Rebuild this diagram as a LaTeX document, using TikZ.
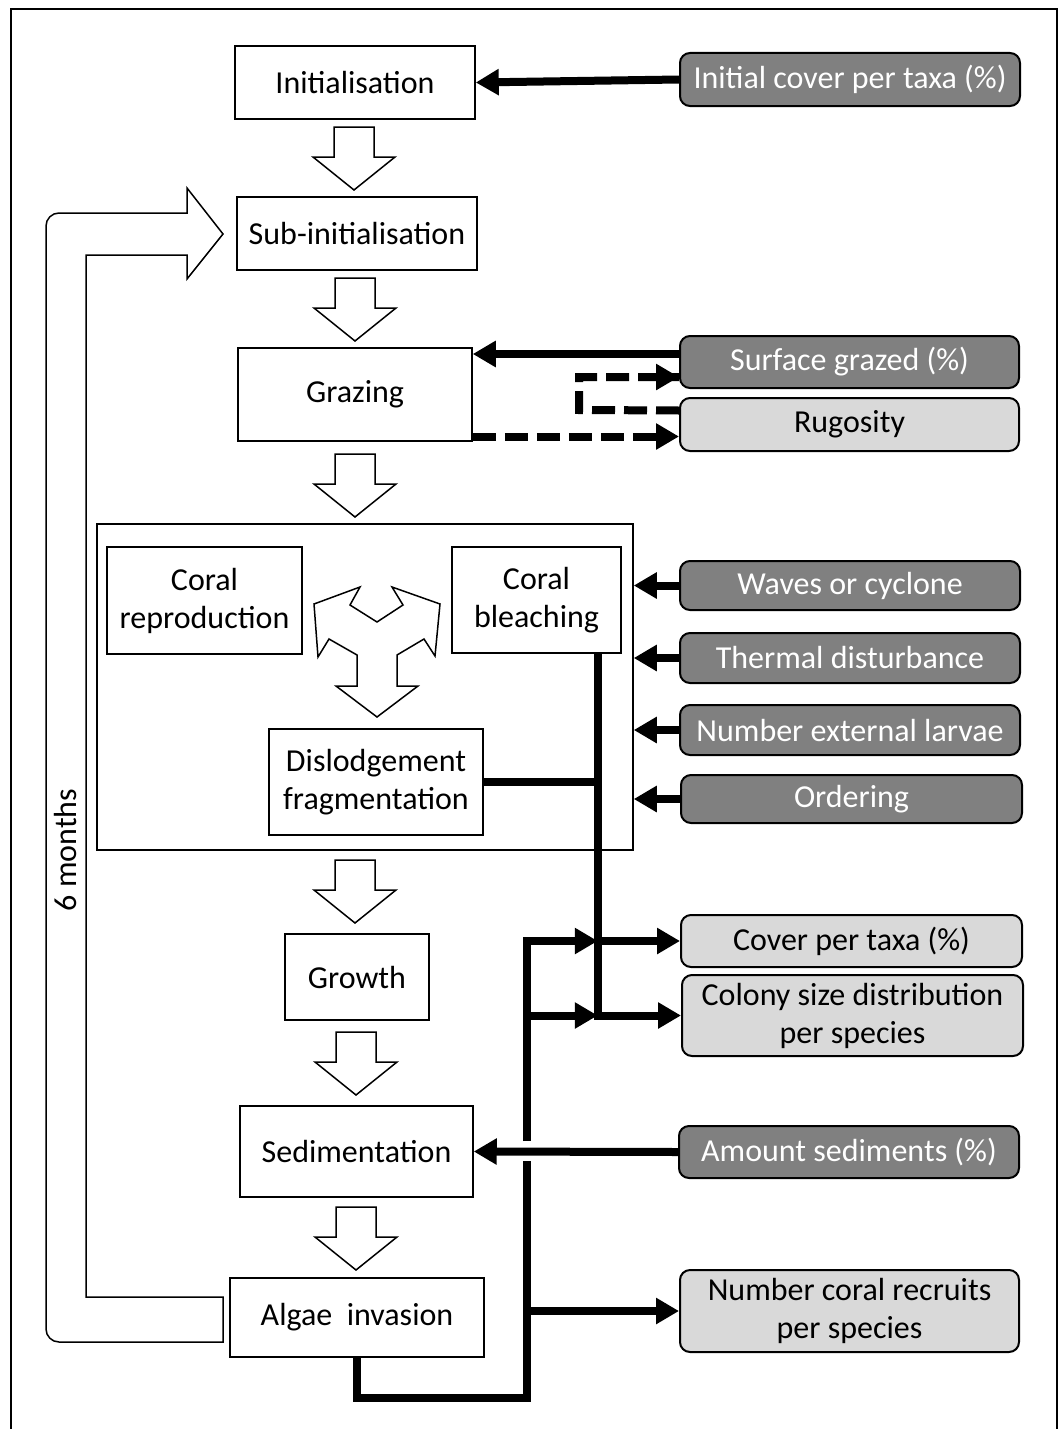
\documentclass[tikz,border=0pt]{standalone}
\usepackage{fontspec}
\setmainfont{Carlito}
\usetikzlibrary{arrows.meta}
\begin{document}
\begin{tikzpicture}[x=1pt,y=-1pt,
  every node/.style={font=\fontsize{32}{38}\selectfont, align=center, inner sep=0pt},
  proc/.style={draw, line width=1.5pt, fill=white},
  dparam/.style={draw, line width=2pt, rounded corners=10pt, fill=black!50, text=white},
  lparam/.style={draw, line width=2pt, rounded corners=10pt, fill=black!15, text=black},
  thk/.style={line width=8pt, line join=miter},
  thkarr/.style={thk, -{Triangle[length=23pt,width=25pt]}},
  dsh/.style={line width=8pt, dash pattern=on 23pt off 9pt},
  blk/.style={draw, line width=1.5pt, fill=white, line join=miter},
  blockdown/.pic={\draw[blk] (-20,0) -- (20,0) -- (20,30) -- (41,30) -- (0,63) -- (-41,30) -- (-20,30) -- cycle;}
]
\useasboundingbox (0,0) rectangle (1060,1429);
% frame
\draw[line width=1.5pt] (11,1440) -- (11,9) -- (1057,9) -- (1057,1440);

% container
\node[proc, minimum width=536pt, minimum height=326pt] (cont) at (365,687) {};

% process boxes
\node[proc, minimum width=240pt, minimum height=73pt] (init) at (355,82.5) {Initialisation};
\node[proc, minimum width=240pt, minimum height=73pt] (sub) at (357,233.5) {Sub-initialisation};
\node[proc, minimum width=234pt, minimum height=93pt] (graz) at (355,394.5) {Grazing};
\node[proc, minimum width=195pt, minimum height=107pt] (repro) at (204.5,600.5) {Coral\\reproduction};
\node[proc, minimum width=169pt, minimum height=106pt] (bleach) at (536.5,600) {Coral\\bleaching};
\node[proc, minimum width=214pt, minimum height=106pt] (disl) at (376,782) {Dislodgement\\fragmentation};
\node[proc, minimum width=144pt, minimum height=86pt] (growth) at (357,977) {Growth};
\node[proc, minimum width=233pt, minimum height=91pt] (sed) at (356.5,1151.5) {Sedimentation};
\node[proc, minimum width=254pt, minimum height=79pt] (algae) at (357,1317.5) {Algae\ \ invasion};

% parameter boxes
\node[dparam, minimum width=340pt, minimum height=53pt] (icov) at (850,79.5) {Initial cover per taxa (\%)};
\node[dparam, minimum width=339pt, minimum height=52pt] (sgraz) at (849.5,362) {Surface grazed (\%)};
\node[lparam, minimum width=339pt, minimum height=53pt] (rug) at (849.5,424.5) {Rugosity};
\node[dparam, minimum width=340pt, minimum height=49pt] (wave) at (850,585.5) {Waves or cyclone};
\node[dparam, minimum width=340pt, minimum height=50pt] (therm) at (850,658) {Thermal disturbance};
\node[dparam, minimum width=340pt, minimum height=50pt] (larv) at (850,730) {Number external larvae};
\node[dparam, minimum width=341pt, minimum height=48pt] (order) at (851.5,799) {Ordering};
\node[lparam, minimum width=341pt, minimum height=52pt] (cover) at (851.5,941) {Cover per taxa (\%)};
\node[lparam, minimum width=341pt, minimum height=81pt] (colony) at (852.5,1015.5) {Colony size distribution\\per species};
\node[dparam, minimum width=340pt, minimum height=52pt] (sedp) at (849,1152) {Amount sediments (\%)};
\node[lparam, minimum width=339pt, minimum height=82pt] (recr) at (849.5,1311) {Number coral recruits\\per species};

% block arrows
\pic at (354,127) {blockdown};
\pic at (355,278) {blockdown};
\pic at (355,454) {blockdown};
\pic at (355,860) {blockdown};
\pic at (356,1032) {blockdown};
\pic at (356,1207) {blockdown};

% triple arrow
\draw[blk] (314,604) -- (360,587) -- (350,605) -- (377,622) -- (403,605) -- (392,587) -- (440,604) -- (435,656) -- (424,639) -- (397,655) -- (397,686) -- (418,686) -- (377,717) -- (336,686) -- (357,686) -- (357,655) -- (329,639) -- (318,657) -- cycle;

% loop arrow
\draw[blk] (223,1297) -- (86,1297) -- (86,255) -- (187,255) -- (187,279) -- (223,234) -- (187,188) -- (187,213) [rounded corners=13pt] -- (46,213) -- (46,1342) [sharp corners] -- (223,1342) -- cycle;
\node[rotate=90] (months) at (66,850) {6 months};

% input arrows
\draw[thkarr] (icov.west) -- (init.east);
\coordinate (sg1) at ([yshift=8pt]sgraz.west);
\draw[thkarr] (sg1) -- (sg1 -| graz.east);
\coordinate (rg1) at ([yshift=14pt]rug.west);
\coordinate (sg2) at ([yshift=-15pt]sgraz.west);
\draw[dsh] (rg1) -- (579,410) -- (579,377) -- (sg2);
\draw[thk, -{Triangle[length=23pt,width=25pt]}] ([xshift=-23pt]sg2) -- (sg2);
\coordinate (rg2) at ([yshift=-12pt]rug.west);
\draw[dsh] (rg2 -| graz.east) -- ([xshift=-20pt]rg2);
\draw[thk, -{Triangle[length=23pt,width=25pt]}] ([xshift=-23pt]rg2) -- (rg2);
\draw[thkarr] (wave.west) -- (wave.west -| cont.east);
\draw[thkarr] (therm.west) -- (therm.west -| cont.east);
\draw[thkarr] (larv.west) -- (larv.west -| cont.east);
\draw[thkarr] (order.west) -- (order.west -| cont.east);
\draw[thkarr] (sedp.west) -- (sed.east);

% outputs from bleaching / dislodgement
\coordinate (bv) at ([xshift=-24pt]bleach.south east);
\draw[thkarr] (bv) -- (bv |- colony.west) -- (colony.west);
\draw[thkarr] (bv |- cover.west) -- (cover.west);
\draw[thk] (disl.east) -- (disl.east -| bv);

% outputs from algae invasion
\coordinate (av) at (527,1398);
\coordinate (gapb) at (527,1161);
\coordinate (gapt) at (527,1141);
\draw[thk] (algae.south) |- (av) -- (gapb);
\draw[thkarr] (gapt) -- (gapt |- cover.west) -- (bv |- cover.west);
\draw[thkarr] (gapt |- colony.west) -- (bv |- colony.west);
\draw[thkarr] (gapt |- recr.west) -- (recr.west);
\end{tikzpicture}
\end{document}
